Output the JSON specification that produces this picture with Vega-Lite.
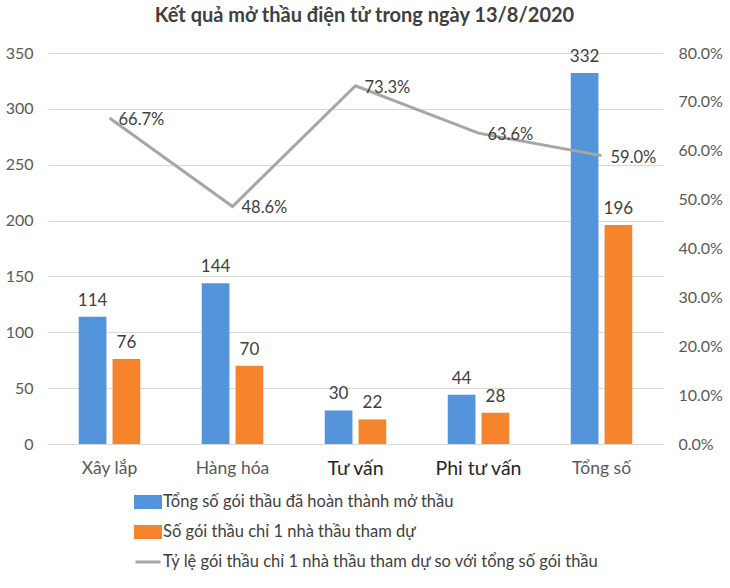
{
  "$schema": "https://vega.github.io/schema/vega-lite/v6.json",
  "autosize": {"type": "none"},
  "width": 615,
  "height": 391,
  "padding": {"left": 48, "top": 53, "right": 67, "bottom": 144},
  "background": "white",
  "title": {
    "text": "Kết quả mở thầu điện tử trong ngày 13/8/2020",
    "font": "Lato",
    "fontSize": 20,
    "fontWeight": "bold",
    "color": "#404040",
    "anchor": "middle",
    "dx": 9,
    "offset": 19
  },
  "datasets": {
    "bars": [
      {"cat": "Xây lắp", "series": "Tổng số gói thầu đã hoàn thành mở thầu", "value": 114},
      {"cat": "Xây lắp", "series": "Số gói thầu chỉ 1 nhà thầu tham dự", "value": 76},
      {"cat": "Hàng hóa", "series": "Tổng số gói thầu đã hoàn thành mở thầu", "value": 144},
      {"cat": "Hàng hóa", "series": "Số gói thầu chỉ 1 nhà thầu tham dự", "value": 70},
      {"cat": "Tư vấn", "series": "Tổng số gói thầu đã hoàn thành mở thầu", "value": 30},
      {"cat": "Tư vấn", "series": "Số gói thầu chỉ 1 nhà thầu tham dự", "value": 22},
      {"cat": "Phi tư vấn", "series": "Tổng số gói thầu đã hoàn thành mở thầu", "value": 44},
      {"cat": "Phi tư vấn", "series": "Số gói thầu chỉ 1 nhà thầu tham dự", "value": 28},
      {"cat": "Tổng số", "series": "Tổng số gói thầu đã hoàn thành mở thầu", "value": 332},
      {"cat": "Tổng số", "series": "Số gói thầu chỉ 1 nhà thầu tham dự", "value": 196}
    ],
    "ratio": [
      {"cat": "Xây lắp", "ratio": 0.667},
      {"cat": "Hàng hóa", "ratio": 0.486},
      {"cat": "Tư vấn", "ratio": 0.733},
      {"cat": "Phi tư vấn", "ratio": 0.636},
      {"cat": "Tổng số", "ratio": 0.59}
    ]
  },
  "config": {
    "font": "Lato",
    "view": {"stroke": null},
    "axis": {
      "labelFont": "Lato",
      "labelFontSize": 16,
      "labelColor": "#595959",
      "ticks": false,
      "domain": false,
      "title": null,
      "gridColor": "#D9D9D9",
      "gridWidth": 1
    }
  },
  "encoding": {
    "x": {
      "field": "cat",
      "type": "nominal",
      "sort": ["Xây lắp", "Hàng hóa", "Tư vấn", "Phi tư vấn", "Tổng số"],
      "scale": {"paddingInner": 0.5, "paddingOuter": 0.25},
      "axis": {
        "labelAngle": 0,
        "labelPadding": 15,
        "grid": false,
        "domain": true,
        "domainColor": "#D9D9D9",
        "labelFontSize": {"condition": {"test": "datum.value === 'Tư vấn' || datum.value === 'Phi tư vấn'", "value": 19.5}, "value": 17.5},
        "labelColor": {"condition": {"test": "datum.value === 'Tư vấn' || datum.value === 'Phi tư vấn'", "value": "#262626"}, "value": "#595959"}
      }
    }
  },
  "layer": [
    {
      "data": {"name": "bars"},
      "layer": [
        {
          "mark": {"type": "bar"},
          "encoding": {
            "xOffset": {
              "field": "series",
              "sort": ["Tổng số gói thầu đã hoàn thành mở thầu", "Số gói thầu chỉ 1 nhà thầu tham dự"],
              "scale": {"paddingInner": 0.18}
            },
            "y": {
              "field": "value",
              "type": "quantitative",
              "scale": {"domain": [0, 350]},
              "axis": {"tickCount": 7, "labelPadding": 15, "orient": "left", "grid": true}
            },
            "color": {
              "field": "series",
              "type": "nominal",
              "scale": {
                "domain": [
                  "Tổng số gói thầu đã hoàn thành mở thầu",
                  "Số gói thầu chỉ 1 nhà thầu tham dự",
                  "Tỷ lệ gói thầu chỉ 1 nhà thầu tham dự so với tổng số gói thầu"
                ],
                "range": ["#5394DB", "#F5842D", "#A6A6A6"]
              },
              "legend": {
                "title": null,
                "orient": "none",
                "legendX": 86,
                "legendY": 435,
                "direction": "vertical",
                "labelFont": "Lato",
                "labelFontSize": 16.5,
                "labelColor": "#404040",
                "labelOffset": 1,
                "symbolSize": 625,
                "rowPadding": 4,
                "padding": 0,
                "labelLimit": 600,
                "encode": {
                  "symbols": {
                    "update": {
                      "shape": {"signal": "datum.index === 2 ? 'M-1,0H1' : 'M-1,-0.44H1V0.44H-1Z'"},
                      "fill": {"signal": "datum.index === 0 ? '#5394DB' : datum.index === 1 ? '#F5842D' : 'transparent'"},
                      "stroke": {"signal": "datum.index === 2 ? '#A6A6A6' : 'transparent'"},
                      "strokeWidth": {"value": 3},
                      "opacity": {"value": 1}
                    }
                  }
                }
              }
            }
          }
        },
        {
          "mark": {"type": "text", "baseline": "bottom", "dy": -7, "fontSize": 17, "color": "#404040"},
          "encoding": {
            "xOffset": {
              "field": "series",
              "sort": ["Tổng số gói thầu đã hoàn thành mở thầu", "Số gói thầu chỉ 1 nhà thầu tham dự"],
              "scale": {"paddingInner": 0.18}
            },
            "y": {"field": "value", "type": "quantitative"},
            "text": {"field": "value", "type": "quantitative"}
          }
        }
      ]
    },
    {
      "data": {"name": "ratio"},
      "layer": [
        {
          "mark": {"type": "line", "strokeWidth": 3},
          "encoding": {
            "y": {
              "field": "ratio",
              "type": "quantitative",
              "scale": {"domain": [0, 0.8]},
              "axis": {"orient": "right", "format": ".1%", "tickCount": 8, "labelPadding": 15, "grid": false}
            },
            "color": {"datum": "Tỷ lệ gói thầu chỉ 1 nhà thầu tham dự so với tổng số gói thầu"}
          }
        },
        {
          "mark": {"type": "text", "align": "left", "baseline": "middle", "dx": 9, "dy": 2, "fontSize": 16.5, "color": "#404040"},
          "encoding": {
            "y": {"field": "ratio", "type": "quantitative"},
            "text": {"field": "ratio", "type": "quantitative", "format": ".1%"}
          }
        }
      ]
    }
  ],
  "resolve": {"scale": {"y": "independent"}}
}
